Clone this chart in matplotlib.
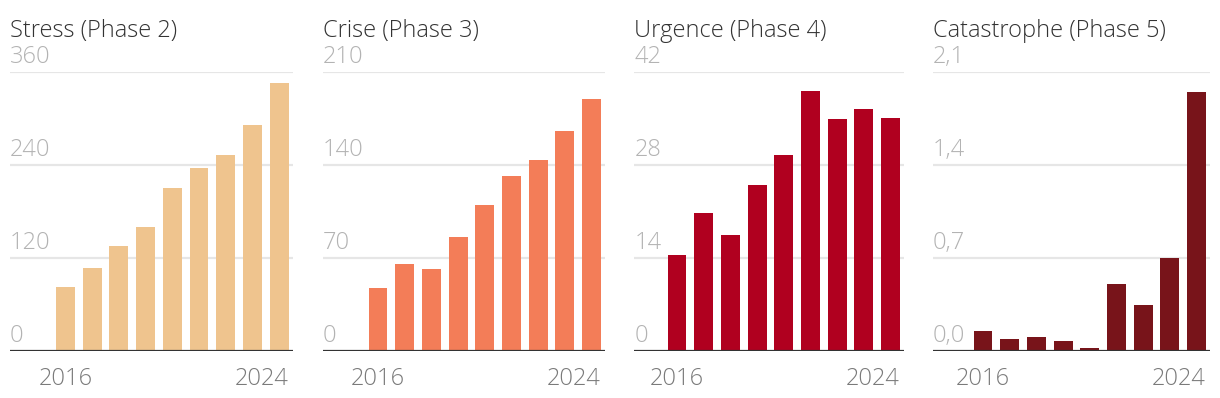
import matplotlib.pyplot as plt
import matplotlib.transforms as mtransforms

# data
years = [2016, 2017, 2018, 2019, 2020, 2021, 2022, 2023, 2024]
titles = ['Stress (Phase 2)', 'Crise (Phase 3)', 'Urgence (Phase 4)', 'Catastrophe (Phase 5)']
stress = [83, 107, 135, 160, 210, 236, 253, 292, 345]
crise = [47.5, 65.5, 62, 86, 110, 132, 144, 165.5, 189.5]
urgence = [14.5, 20.8, 17.5, 25.0, 29.5, 39.1, 34.9, 36.4, 35.0]
catastrophe = [0.15, 0.09, 0.105, 0.077, 0.025, 0.505, 0.348, 0.70, 1.95]
yticks = [[0, 120, 240, 360], [0, 70, 140, 210], [0, 14, 28, 42], [0, 0.7, 1.4, 2.1]]
ytick_labels = [['0', '120', '240', '360'], ['0', '70', '140', '210'],
                ['0', '14', '28', '42'], ['0,0', '0,7', '1,4', '2,1']]
colors = ['#EFC48E', '#F37D58', '#B0001F', '#78141A']
series = [stress, crise, urgence, catastrophe]

W, H = 1220, 398
# panel extents in pixels: axis left, axis right, centre of first bar
panels = [(10, 293, 65.5), (322.7, 605, 378), (634.3, 904, 677), (933, 1210, 983)]
pitch = 26.7
top_px, base_px = 71.7, 351.3

plt.rcParams['font.family'] = ['Open Sans', 'DejaVu Sans']

fig = plt.figure(figsize=(W / 100, H / 100), dpi=100)

for i, (left, right, c0) in enumerate(panels):
    ax = fig.add_axes([left / W, (H - base_px) / H, (right - left) / W, (base_px - top_px) / H])
    x = list(range(len(years)))
    ax.bar(x, series[i], width=0.71, color=colors[i], zorder=2)
    ax.set_xlim((left - c0) / pitch, (right - c0) / pitch)
    ax.set_ylim(0, yticks[i][-1])
    for s in ax.spines.values():
        s.set_visible(False)
    ax.set_xticks([])
    ax.set_yticks([])
    trans = mtransforms.offset_copy(ax.get_yaxis_transform(), fig=fig, x=0, y=6.5, units='points')
    for t, lab in zip(yticks[i], ytick_labels[i]):
        if t > 0:
            ax.axhline(t, color='#E6E6E6', lw=1.6, zorder=1)
        ax.text(0, t, lab, transform=trans, ha='left', va='baseline',
                fontsize=17, color='#B3B3B3', fontweight='light')
    ax.axhline(0, color='#333333', lw=1.6, zorder=3)
    # year labels, first and last only
    ax.text(0, -0.1, str(years[0]), transform=ax.get_xaxis_transform(), ha='center', va='center',
            fontsize=17, color='#7A7A7A', fontweight='light')
    ax.text(len(years) - 1 + 0.355, -0.1, str(years[-1]), transform=ax.get_xaxis_transform(),
            ha='right', va='center', fontsize=17, color='#7A7A7A', fontweight='light')
    fig.text(left / W, 1 - 36.7 / H, titles[i], ha='left', va='baseline', fontsize=17,
             color='#333333', fontweight='light')

fig.savefig('out.png', dpi=100)
